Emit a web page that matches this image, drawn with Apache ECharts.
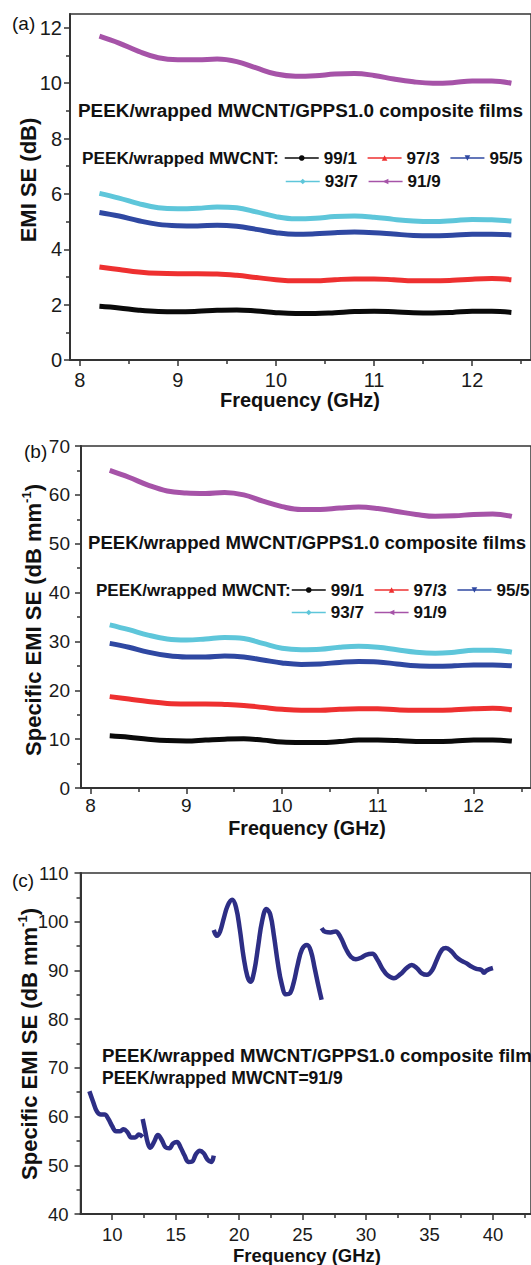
<!DOCTYPE html>
<html>
<head>
<meta charset="utf-8">
<script src="https://cdn.jsdelivr.net/npm/echarts@6/dist/echarts.min.js"></script>
<style>
  html, body { margin: 0; padding: 0; background: #fff; }
  #chart { width: 531px; height: 1265px; }
</style>
</head>
<body>
<div id="chart"></div>
<script>
// frequencies (GHz), X band, panels (a) and (b)
var freqAB = [8.2, 8.4, 8.6, 8.8, 9.0, 9.2, 9.4, 9.6, 9.8, 10.0, 10.2, 10.4, 10.6, 10.8, 11.0, 11.2, 11.4, 11.6, 11.8, 12.0, 12.2, 12.4];

// legend names (PEEK / wrapped MWCNT ratio)
var ratios = ['99/1', '97/3', '95/5', '93/7', '91/9'];

// (a) EMI SE (dB)
var emiSE_99_1 = [1.94, 1.88, 1.80, 1.75, 1.74, 1.76, 1.80, 1.81, 1.77, 1.71, 1.68, 1.68, 1.71, 1.75, 1.76, 1.74, 1.71, 1.70, 1.72, 1.76, 1.76, 1.72];
var emiSE_97_3 = [3.36, 3.27, 3.18, 3.13, 3.12, 3.12, 3.11, 3.06, 2.98, 2.90, 2.86, 2.86, 2.90, 2.93, 2.93, 2.90, 2.86, 2.86, 2.88, 2.92, 2.94, 2.90];
var emiSE_95_5 = [5.33, 5.20, 5.03, 4.90, 4.85, 4.84, 4.87, 4.83, 4.72, 4.60, 4.54, 4.56, 4.60, 4.62, 4.60, 4.55, 4.50, 4.49, 4.51, 4.54, 4.54, 4.52];
var emiSE_93_7 = [6.02, 5.85, 5.65, 5.50, 5.46, 5.48, 5.53, 5.50, 5.35, 5.18, 5.10, 5.12, 5.18, 5.20, 5.16, 5.08, 5.02, 5.00, 5.03, 5.08, 5.07, 5.02];
var emiSE_91_9 = [11.70, 11.45, 11.15, 10.92, 10.85, 10.85, 10.87, 10.78, 10.55, 10.33, 10.25, 10.27, 10.33, 10.35, 10.28, 10.15, 10.05, 10.00, 10.02, 10.08, 10.08, 10.00];

// (b) specific EMI SE (dB/mm)
var specSE_99_1 = [10.7, 10.4, 10.0, 9.7, 9.6, 9.8, 10.0, 10.1, 9.8, 9.4, 9.3, 9.3, 9.5, 9.8, 9.8, 9.7, 9.5, 9.5, 9.6, 9.8, 9.8, 9.6];
var specSE_97_3 = [18.7, 18.2, 17.7, 17.3, 17.2, 17.2, 17.1, 16.9, 16.5, 16.1, 15.9, 15.9, 16.1, 16.2, 16.2, 16.0, 15.9, 15.9, 16.0, 16.2, 16.3, 16.0];
var specSE_95_5 = [29.6, 28.8, 27.8, 27.1, 26.8, 26.8, 27.0, 26.8, 26.2, 25.6, 25.3, 25.4, 25.7, 25.9, 25.8, 25.4, 25.0, 24.9, 25.0, 25.2, 25.2, 25.0];
var specSE_93_7 = [33.4, 32.4, 31.3, 30.5, 30.3, 30.5, 30.8, 30.6, 29.6, 28.6, 28.3, 28.4, 28.8, 29.0, 28.8, 28.3, 27.8, 27.6, 27.8, 28.2, 28.2, 27.8];
var specSE_91_9 = [65.0, 63.6, 62.0, 60.8, 60.4, 60.3, 60.5, 60.0, 58.7, 57.6, 57.0, 57.0, 57.3, 57.5, 57.2, 56.6, 56.0, 55.6, 55.7, 56.0, 56.1, 55.6];

// (c) 91/9 film over four bands
var freqC1 = [8.2, 8.5, 8.8, 9.1, 9.4, 9.7, 10.0, 10.3, 10.6, 10.9, 11.2, 11.5, 11.8, 12.1, 12.4];
var specC1 = [65.2, 63.0, 61.0, 60.4, 60.4, 59.5, 58.0, 57.0, 57.0, 57.4, 56.8, 55.7, 55.7, 56.3, 55.8];
var freqC2 = [12.4, 12.6, 12.8, 13.0, 13.3, 13.6, 13.9, 14.2, 14.5, 14.8, 15.1, 15.4, 15.7, 16.0, 16.3, 16.6, 16.9, 17.2, 17.5, 17.8, 18.0];
var specC2 = [59.5, 57.0, 54.6, 53.6, 54.8, 56.2, 55.2, 53.7, 53.5, 54.5, 54.8, 53.6, 52.0, 50.7, 50.8, 52.3, 53.0, 52.5, 51.2, 50.7, 52.0];
var freqC3 = [18.0, 18.25, 18.5, 18.8, 19.1, 19.45, 19.75, 20.05, 20.35, 20.65, 20.9, 21.2, 21.5, 21.8, 22.15, 22.45, 22.75, 23.05, 23.35, 23.7, 24.0, 24.3, 24.6, 24.95, 25.35, 25.65, 25.95, 26.25, 26.5];
var specC3 = [98.3, 97.1, 98.0, 100.8, 103.3, 104.5, 103.0, 98.5, 92.8, 88.8, 87.7, 90.0, 95.0, 100.0, 102.6, 101.5, 97.0, 91.5, 87.3, 85.1, 85.3, 87.5, 91.0, 94.3, 95.2, 94.0, 90.5, 86.8, 84.0];
var freqC4 = [26.5, 26.8, 27.2, 27.6, 28.0, 28.4, 28.8, 29.2, 29.6, 30.0, 30.5, 30.9, 31.3, 31.7, 32.2, 32.7, 33.2, 33.6, 34.0, 34.4, 34.8, 35.2, 35.6, 36.0, 36.3, 36.7, 37.1, 37.5, 37.9, 38.3, 38.7, 39.1, 39.3, 39.5, 40.0];
var specC4 = [98.7, 97.9, 97.8, 98.0, 96.8, 94.5, 92.8, 92.3, 92.6, 93.2, 93.4, 92.2, 90.3, 89.0, 88.4, 89.2, 90.5, 91.1, 90.5, 89.4, 89.1, 90.0, 92.3, 94.3, 94.6, 94.0, 92.8, 92.0, 91.5, 90.8, 90.3, 90.1, 89.5, 90.0, 90.5];

// tick values
var ticksAB_x = [8, 9, 10, 11, 12];
var minorAB_x = [8.5, 9.5, 10.5, 11.5, 12.5];
var ticksA_y = [0, 2, 4, 6, 8, 10, 12];
var minorA_y = [1, 3, 5, 7, 9, 11];
var ticksB_y = [0, 10, 20, 30, 40, 50, 60, 70];
var minorB_y = [5, 15, 25, 35, 45, 55, 65];
var ticksC_x = [10, 15, 20, 25, 30, 35, 40];
var minorC_x = [12.5, 17.5, 22.5, 27.5, 32.5, 37.5, 42.5];
var ticksC_y = [40, 50, 60, 70, 80, 90, 100, 110];
var minorC_y = [45, 55, 65, 75, 85, 95, 105];

var FONT = 'Liberation Sans, Arial, Helvetica, sans-serif';
var AXIS = '#333';
var lineColors = ['#0a0a0a', '#ee3030', '#2f48a2', '#5ec6da', '#a653a8'];
var navy = '#2d2e85';
var symbols = [['circle', 0], ['triangle', 0], ['triangle', 180], ['diamond', 0], ['triangle', 90]];

function pairs(xs, ys) {
  return xs.map(function (x, i) { return [x, ys[i]]; });
}

// a major axis plus an overlay that only carries the short minor ticks
function makeAxes(dim, grid, min, max, major, minor, fontSize, margin) {
  var main = {
    type: 'value', gridIndex: grid, min: min, max: max,
    position: dim === 'x' ? 'bottom' : 'left',
    splitLine: { show: false },
    axisLine: { show: true, onZero: false, lineStyle: { color: AXIS, width: 2 } },
    axisTick: { show: true, customValues: major, length: 6, lineStyle: { color: AXIS, width: 1.5 } },
    axisLabel: { customValues: major, fontSize: fontSize, fontFamily: FONT, color: '#1a1a1a', margin: margin }
  };
  var minorAxis = {
    type: 'value', gridIndex: grid, min: min, max: max,
    position: dim === 'x' ? 'bottom' : 'left',
    splitLine: { show: false },
    axisLine: { show: false, onZero: false },
    axisTick: { show: true, customValues: minor, length: 4, lineStyle: { color: AXIS, width: 1.5 } },
    axisLabel: { show: false }
  };
  return [main, minorAxis];
}

var xAxes = [].concat(
  makeAxes('x', 0, 7.9, 12.6, ticksAB_x, minorAB_x, 20, 10),
  makeAxes('x', 1, 7.9, 12.6, ticksAB_x, minorAB_x, 19, 8),
  makeAxes('x', 2, 7.5, 43, ticksC_x, minorC_x, 18.5, 11)
);
var yAxes = [].concat(
  makeAxes('y', 0, 0, 12.5, ticksA_y, minorA_y, 20, 8),
  makeAxes('y', 1, 0, 70, ticksB_y, minorB_y, 19, 11),
  makeAxes('y', 2, 40, 110, ticksC_y, minorC_y, 18.5, 12)
);

var series = [];
var dataA = [emiSE_99_1, emiSE_97_3, emiSE_95_5, emiSE_93_7, emiSE_91_9];
var dataB = [specSE_99_1, specSE_97_3, specSE_95_5, specSE_93_7, specSE_91_9];
[dataA, dataB].forEach(function (set, p) {
  set.forEach(function (vals, i) {
    series.push({
      name: ratios[i], type: 'line',
      xAxisIndex: p * 2, yAxisIndex: p * 2,
      data: pairs(freqAB, vals),
      smooth: 0.4, showSymbol: false,
      symbol: symbols[i][0], symbolRotate: symbols[i][1],
      color: lineColors[i],
      lineStyle: { width: 5, color: lineColors[i] },
      silent: true
    });
  });
});
[[freqC1, specC1], [freqC2, specC2], [freqC3, specC3], [freqC4, specC4]].forEach(function (seg, k) {
  series.push({
    name: 'band' + k, type: 'line',
    xAxisIndex: 4, yAxisIndex: 4,
    data: pairs(seg[0], seg[1]),
    smooth: 0.4, showSymbol: false,
    lineStyle: { width: 4.5, color: navy },
    silent: true
  });
});

function legendRow(names, left, top) {
  return {
    data: names, left: left, top: top, orient: 'horizontal',
    padding: 0, itemWidth: 34, itemHeight: 7, itemGap: 10,
    selectedMode: false,
    lineStyle: { width: 1.5 },
    textStyle: { fontSize: 17, fontWeight: 'bold', fontFamily: FONT, color: '#111' }
  };
}

function label(txt, x, y, size, bold, align) {
  return {
    type: 'text', x: x, y: y, silent: true,
    style: {
      text: txt, fontSize: size, fontWeight: bold ? 'bold' : 'normal', fontFamily: FONT,
      fill: '#111', textAlign: align || 'left', textVerticalAlign: 'middle'
    }
  };
}

function yTitle(rich, x, y) {
  return {
    type: 'text', x: x, y: y, rotation: Math.PI / 2, silent: true,
    style: {
      text: rich, fill: '#111', textAlign: 'center', textVerticalAlign: 'middle',
      rich: {
        n: { fontSize: 22, fontWeight: 'bold', fontFamily: FONT, fill: '#111', lineHeight: 26 },
        s: { fontSize: 13, fontWeight: 'bold', fontFamily: FONT, fill: '#111', lineHeight: 14, verticalAlign: 'top' }
      }
    }
  };
}

var chart = echarts.init(document.getElementById('chart'), null, { renderer: 'svg' });
chart.setOption({
  backgroundColor: '#fff',
  animation: false,
  grid: [
    { left: 70, top: 14, width: 470, height: 346, show: true, borderColor: AXIS, borderWidth: 1.5 },
    { left: 81, top: 446, width: 463, height: 342, show: true, borderColor: AXIS, borderWidth: 1.5 },
    { left: 80.5, top: 873, width: 466, height: 341, show: true, borderColor: AXIS, borderWidth: 1.5 }
  ],
  xAxis: xAxes,
  yAxis: yAxes,
  legend: [
    legendRow(ratios.slice(0, 3), 284, 149.5),
    legendRow(ratios.slice(3), 285, 173),
    legendRow(ratios.slice(0, 3), 291, 581.5),
    legendRow(ratios.slice(3), 291, 604)
  ],
  graphic: [
    label('(a)', 12, 23, 19, false),
    label('(b)', 24, 451, 19, false),
    label('(c)', 12, 880, 19, false),
    label('PEEK/wrapped MWCNT/GPPS1.0 composite films', 78, 110, 18.9, true),
    label('PEEK/wrapped MWCNT:', 82, 158, 17.2, true),
    label('PEEK/wrapped MWCNT/GPPS1.0 composite films', 88, 542, 18.6, true),
    label('PEEK/wrapped MWCNT:', 96, 590, 17, true),
    label('PEEK/wrapped MWCNT/GPPS1.0 composite films', 102, 1055, 18.7, true),
    label('PEEK/wrapped MWCNT=91/9', 102, 1078, 17.5, true),
    label('Frequency (GHz)', 300, 400, 20, true, 'center'),
    label('Frequency (GHz)', 307, 828, 19.7, true, 'center'),
    label('Frequency (GHz)', 307, 1255.5, 18.5, true, 'center'),
    yTitle('{n|EMI SE (dB)}', 28, 180),
    yTitle('{n|Specific EMI SE (dB mm}{s|-1}{n|)}', 33, 620),
    yTitle('{n|Specific EMI SE (dB mm}{s|-1}{n|)}', 29, 1044)
  ],
  series: series
});
</script>
</body>
</html>
